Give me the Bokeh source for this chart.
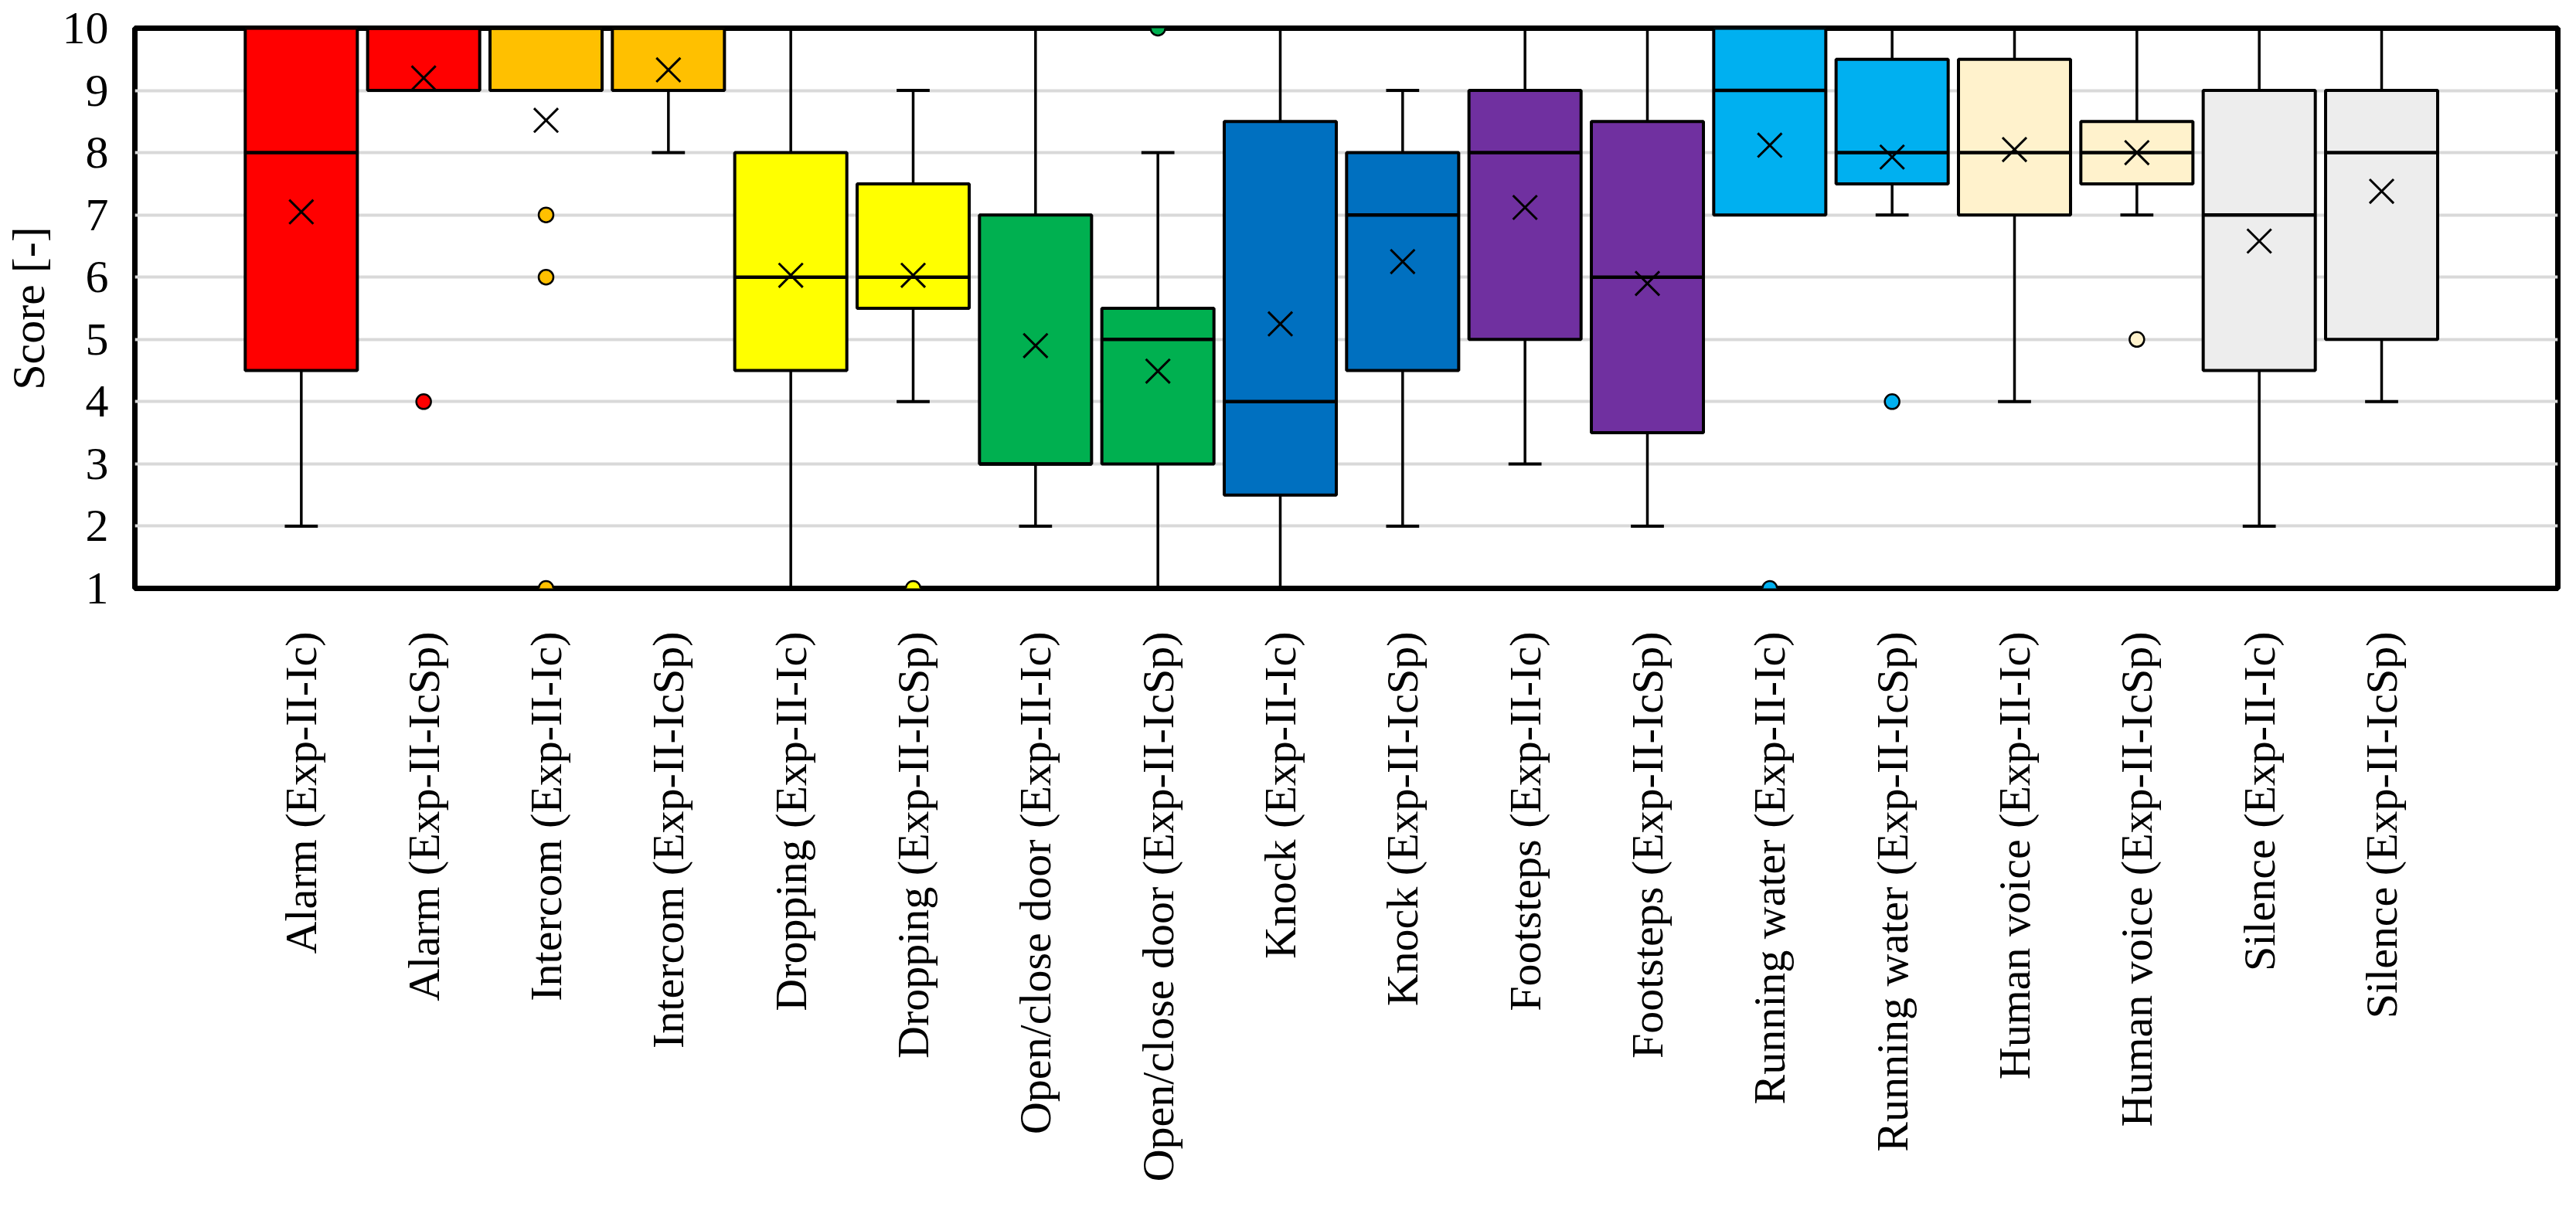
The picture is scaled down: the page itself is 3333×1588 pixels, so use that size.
import math
from bokeh.plotting import figure
from bokeh.models import Range1d, FixedTicker
from bokeh.embed import file_html
from bokeh.resources import INLINE

# ---------------- data ----------------
labels = ["Alarm (Exp-II-Ic)", "Alarm (Exp-II-IcSp)",
          "Intercom (Exp-II-Ic)", "Intercom (Exp-II-IcSp)",
          "Dropping (Exp-II-Ic)", "Dropping (Exp-II-IcSp)",
          "Open/close door (Exp-II-Ic)", "Open/close door (Exp-II-IcSp)",
          "Knock (Exp-II-Ic)", "Knock (Exp-II-IcSp)",
          "Footsteps (Exp-II-Ic)", "Footsteps (Exp-II-IcSp)",
          "Running water (Exp-II-Ic)", "Running water (Exp-II-IcSp)",
          "Human voice (Exp-II-Ic)", "Human voice (Exp-II-IcSp)",
          "Silence (Exp-II-Ic)", "Silence (Exp-II-IcSp)"]

colors = ["#FF0000", "#FF0000", "#FFC000", "#FFC000", "#FFFF00", "#FFFF00",
          "#00B050", "#00B050", "#0070C0", "#0070C0", "#7030A0", "#7030A0",
          "#00B0F0", "#00B0F0", "#FFF2CC", "#FFF2CC", "#EDEDED", "#EDEDED"]

whisker_low = [2, 9, 9, 8, 1, 4, 2, 1, 1, 2, 3, 2, 7, 7, 4, 7, 2, 4]
q1 = [4.5, 9, 9, 9, 4.5, 5.5, 3, 3, 2.5, 4.5, 5, 3.5, 7, 7.5, 7, 7.5, 4.5, 5]
median = [8, 10, 10, 10, 6, 6, 3, 5, 4, 7, 8, 6, 9, 8, 8, 8, 7, 8]
q3 = [10, 10, 10, 10, 8, 7.5, 7, 5.5, 8.5, 8, 9, 8.5, 10, 9.5, 9.5, 8.5, 9, 9]
whisker_high = [10, 10, 10, 10, 10, 9, 10, 8, 10, 9, 10, 10, 10, 10, 10, 10, 10, 10]
mean = [7.05, 9.2, 8.52, 9.33, 6.03, 6.03, 4.9, 4.49, 5.25, 6.25,
        7.12, 5.9, 8.12, 7.93, 8.05, 8.0, 6.58, 7.38]
outliers = [[], [4], [7, 6, 1], [], [], [1], [], [10], [], [],
            [], [], [1], [4], [], [5], [], []]

y_ticks = [1, 2, 3, 4, 5, 6, 7, 8, 9, 10]

# ---------------- figure ----------------
FONT = "Liberation Serif"
BOX_W = 0.916
CAP_W = 0.27

n = len(labels)
xs = list(range(n))

p = figure(frame_width=3135, frame_height=725,
           x_range=Range1d(-1.36, 18.44), y_range=Range1d(1, 10),
           min_border_left=165, min_border_top=36, min_border_right=17,
           min_border_bottom=800,
           output_backend="svg", toolbar_location=None)
p.background_fill_color = "white"
p.border_fill_color = "white"
p.outline_line_color = "black"
p.outline_line_width = 7

# grid
p.xgrid.visible = False
p.ygrid.ticker = FixedTicker(ticks=y_ticks)
p.ygrid.grid_line_color = "#D9D9D9"
p.ygrid.grid_line_width = 4

# y axis
p.yaxis.ticker = FixedTicker(ticks=y_ticks)
p.yaxis.axis_line_color = None
p.yaxis.major_tick_line_color = None
p.yaxis.minor_tick_line_color = None
p.yaxis.major_label_text_font = FONT
p.yaxis.major_label_text_font_size = "60px"
p.yaxis.major_label_text_color = "black"
p.yaxis.major_label_standoff = 28
p.yaxis.axis_label = "Score [-]"
p.yaxis.axis_label_text_font = FONT
p.yaxis.axis_label_text_font_size = "60px"
p.yaxis.axis_label_text_font_style = "normal"
p.yaxis.axis_label_text_color = "black"
p.yaxis.axis_label_standoff = 8

# x axis
p.xaxis.ticker = FixedTicker(ticks=xs)
p.xaxis.major_label_overrides = {i: lab for i, lab in enumerate(labels)}
p.xaxis.major_label_orientation = math.pi / 2
p.xaxis.axis_line_color = None
p.xaxis.major_tick_line_color = None
p.xaxis.minor_tick_line_color = None
p.xaxis.major_label_text_font = FONT
p.xaxis.major_label_text_font_size = "58px"
p.xaxis.major_label_text_color = "black"
p.xaxis.major_label_standoff = 50

# whiskers (vertical lines)
lw_x = [i for i in xs if whisker_low[i] < q1[i]]
p.segment(x0=lw_x, x1=lw_x, y0=[whisker_low[i] for i in lw_x], y1=[q1[i] for i in lw_x],
          line_color="black", line_width=3.5)
hw_x = [i for i in xs if whisker_high[i] > q3[i]]
p.segment(x0=hw_x, x1=hw_x, y0=[q3[i] for i in hw_x], y1=[whisker_high[i] for i in hw_x],
          line_color="black", line_width=3.5)
# caps
p.segment(x0=[i - CAP_W / 2 for i in lw_x], x1=[i + CAP_W / 2 for i in lw_x],
          y0=[whisker_low[i] for i in lw_x], y1=[whisker_low[i] for i in lw_x],
          line_color="black", line_width=4)
p.segment(x0=[i - CAP_W / 2 for i in hw_x], x1=[i + CAP_W / 2 for i in hw_x],
          y0=[whisker_high[i] for i in hw_x], y1=[whisker_high[i] for i in hw_x],
          line_color="black", line_width=4)

# boxes
p.vbar(x=xs, width=BOX_W, bottom=q1, top=q3, fill_color=colors,
       line_color="black", line_width=4)
# medians
p.segment(x0=[i - BOX_W / 2 for i in xs], x1=[i + BOX_W / 2 for i in xs],
          y0=median, y1=median, line_color="black", line_width=4.5)
# means
p.scatter(x=xs, y=mean, marker="x", size=44, line_color="black", line_width=3)

# outliers
ox, oy, oc = [], [], []
for i in xs:
    for v in outliers[i]:
        ox.append(i)
        oy.append(v)
        oc.append(colors[i])
p.scatter(x=ox, y=oy, marker="circle", size=19, fill_color=oc,
          line_color="black", line_width=2.5)

open("out.html", "w").write(file_html(p, INLINE))
